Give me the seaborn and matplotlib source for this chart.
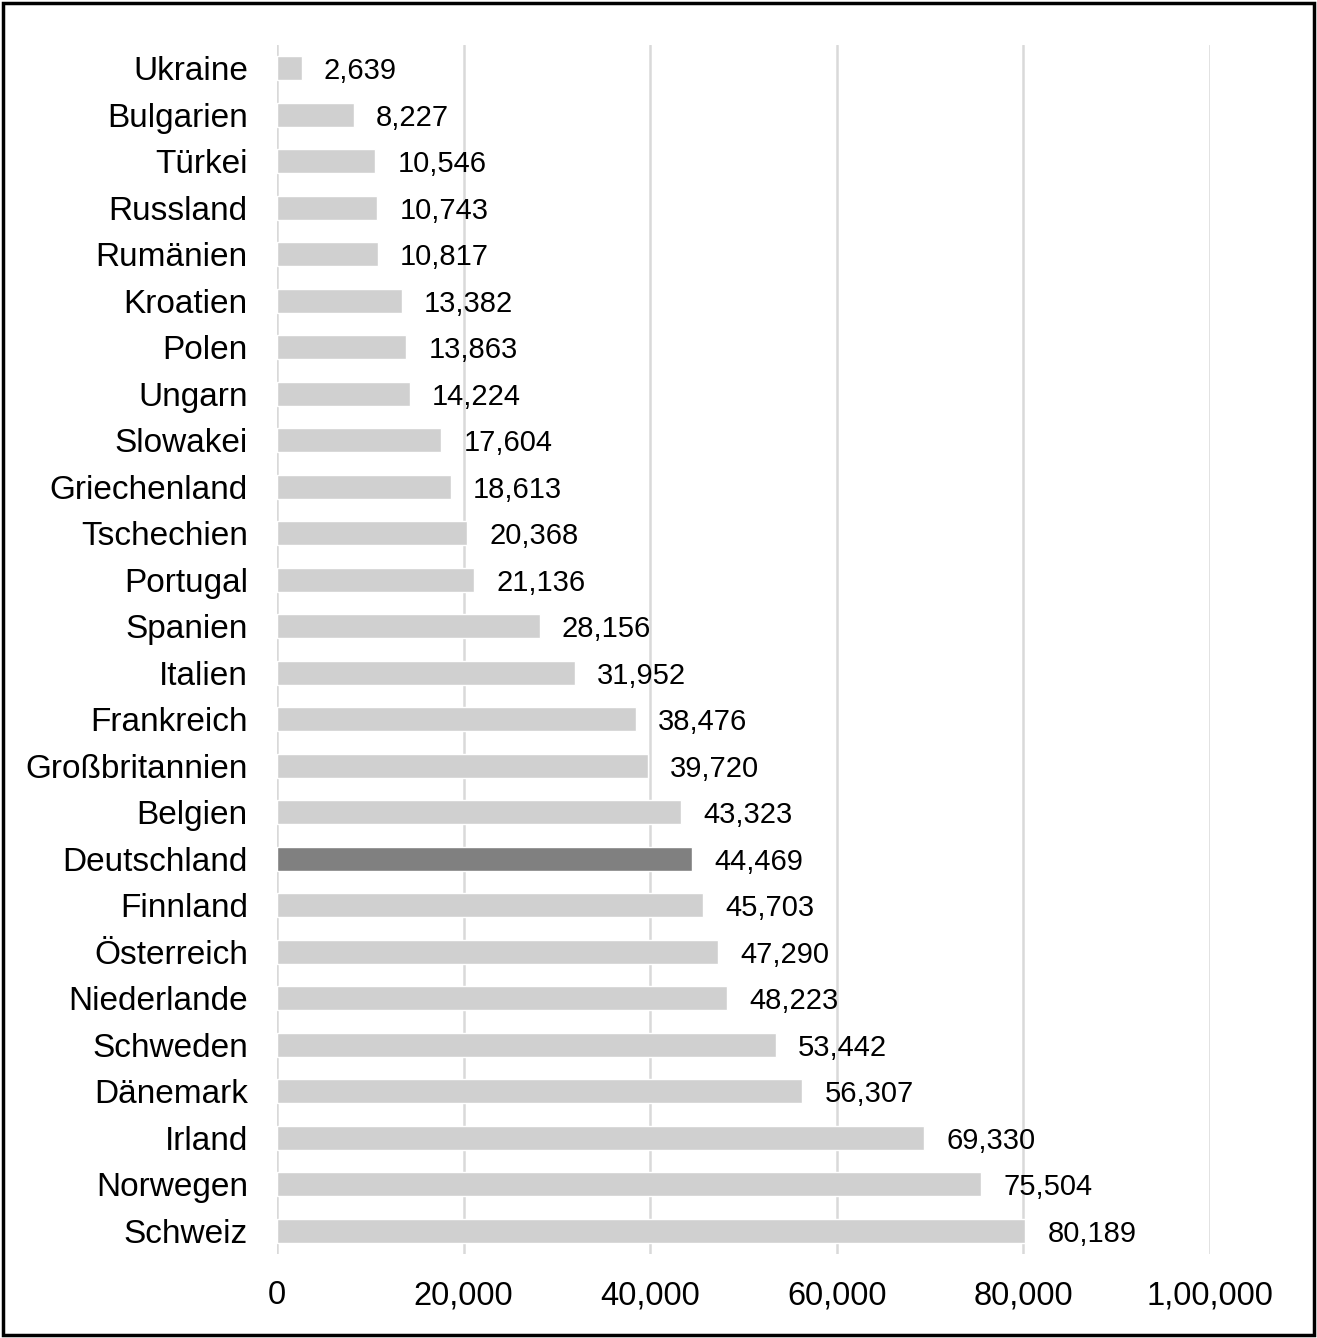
import numpy as np
import pandas as pd
import matplotlib
matplotlib.use("Agg")
import matplotlib.pyplot as plt
import seaborn as sns
from matplotlib.patches import Rectangle

# Daten (von oben nach unten)
laender = ["Ukraine", "Bulgarien", "Türkei", "Russland", "Rumänien", "Kroatien",
           "Polen", "Ungarn", "Slowakei", "Griechenland", "Tschechien", "Portugal",
           "Spanien", "Italien", "Frankreich", "Großbritannien", "Belgien",
           "Deutschland", "Finnland", "Österreich", "Niederlande", "Schweden",
           "Dänemark", "Irland", "Norwegen", "Schweiz"]
werte = [2639, 8227, 10546, 10743, 10817, 13382, 13863, 14224, 17604, 18613,
         20368, 21136, 28156, 31952, 38476, 39720, 43323, 44469, 45703, 47290,
         48223, 53442, 56307, 69330, 75504, 80189]
x_ticks = [0, 20000, 40000, 60000, 80000, 100000]
x_ticklabels = ["0", "20,000", "40,000", "60,000", "80,000", "1,00,000"]
hervorgehoben = "Deutschland"

df = pd.DataFrame({"Land": laender, "Wert": werte})
farben = {l: ("#808080" if l == hervorgehoben else "#d0d0d0") for l in laender}

sns.set_style("white")
plt.rcParams['font.family'] = ['Liberation Sans', 'DejaVu Sans']

fig = plt.figure(figsize=(13.17, 13.38), dpi=100)
ax = fig.add_axes([0.2103, 0.0628, 0.7085, 0.9036])

sns.barplot(data=df, y="Land", x="Wert", hue="Land", palette=farben,
            orient="h", width=0.52, legend=False, ax=ax, saturation=1)

for i, w in enumerate(werte):
    ax.annotate(f"{w:,}", xy=(w, i), xytext=(16, 0), textcoords="offset points",
                va="center_baseline", ha="left", fontsize=21, color="black")

ax.set_xlim(0, 100000)
ax.set_ylim(len(laender) - 0.5, -0.5)
ax.set_xticks(x_ticks)
ax.set_xticklabels(x_ticklabels, fontsize=23.5)
ax.tick_params(axis="y", labelsize=24, pad=21, length=0, labelcolor="black")
ax.tick_params(axis="x", pad=19, length=0, labelcolor="black")
ax.set_xlabel("")
ax.set_ylabel("")
ax.grid(axis="x", color="#d9d9d9", linewidth=1.8)
ax.set_axisbelow(True)
for s in ax.spines.values():
    s.set_visible(False)

# Rahmen um die ganze Grafik
fig.patches.append(Rectangle((0.002, 0.002), 0.996, 0.996, transform=fig.transFigure,
                             fill=False, edgecolor="black", linewidth=2.5))

fig.savefig("out.png", dpi=100)
